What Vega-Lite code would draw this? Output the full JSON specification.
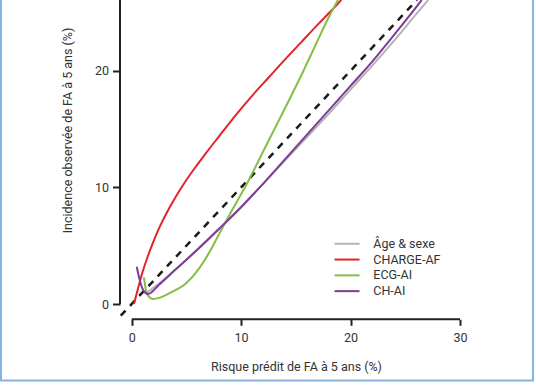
{
  "$schema": "https://vega.github.io/schema/vega-lite/v6.json",
  "autosize": {"type": "none"},
  "width": 532,
  "height": 385.5,
  "padding": {"left": 1, "top": -5, "right": 3, "bottom": 5.5},
  "background": "white",
  "config": {
    "view": {"stroke": "#86b4e0", "strokeWidth": 2},
    "font": "Roboto",
    "axis": {"grid": false, "domain": false, "tickColor": "#222", "tickWidth": 2, "labelColor": "#333", "labelFontSize": 12.5, "titleColor": "#333", "titleFontSize": 12.5, "titleFontWeight": "normal", "labelFont": "Roboto", "titleFont": "Roboto"},
    "legend": {"labelFont": "Roboto", "labelFontSize": 12.5, "labelColor": "#333"}
  },
  "layer": [
    {
      "data": {"values": [{"a": 1}]},
      "mark": {"type": "rule", "color": "#222", "strokeWidth": 2},
      "encoding": {
        "x": {"datum": 0, "type": "quantitative", "scale": {"domain": [-11.944, 36.672], "nice": false, "zero": false}, "axis": {"values": [0, 10, 20, 30], "offset": -61.2, "tickSize": 6, "labelPadding": 6, "title": "Risque prédit de FA à 5 ans (%)", "titleX": 295, "titleY": 47, "titleBaseline": "middle"}},
        "x2": {"datum": 30},
        "y": {"datum": -1.312, "type": "quantitative", "scale": {"domain": [-6.558, 26.49], "nice": false, "zero": false}, "axis": {"values": [0, 10, 20], "offset": -119, "tickSize": 7.5, "labelPadding": 4, "title": "Incidence observée de FA à 5 ans (%)", "titleX": -53, "titleY": 135, "titleAngle": -90, "titleAlign": "center", "titleBaseline": "middle"}}
      }
    },
    {
      "data": {"values": [{"a": 1}]},
      "mark": {"type": "rule", "color": "#222", "strokeWidth": 2},
      "encoding": {
        "x": {"datum": -1.069, "type": "quantitative"},
        "y": {"datum": 0, "type": "quantitative"},
        "y2": {"datum": 26.49}
      }
    },
    {
      "data": {"values": [{"x": -1, "y": -1}, {"x": 26.06, "y": 26.06}]},
      "mark": {"type": "line", "color": "#1a1a1a", "strokeWidth": 2.5, "strokeDash": [7, 6.5]},
      "encoding": {
        "x": {"field": "x", "type": "quantitative"},
        "y": {"field": "y", "type": "quantitative"}
      }
    },
    {
      "data": {"values": [
        {"serie": "Âge & sexe", "x": 1.3, "y": 0.9},
        {"serie": "Âge & sexe", "x": 2.5, "y": 1.75},
        {"serie": "Âge & sexe", "x": 4, "y": 2.95},
        {"serie": "Âge & sexe", "x": 6, "y": 4.7},
        {"serie": "Âge & sexe", "x": 8, "y": 6.5},
        {"serie": "Âge & sexe", "x": 10, "y": 8.35},
        {"serie": "Âge & sexe", "x": 12, "y": 10.3},
        {"serie": "Âge & sexe", "x": 14, "y": 12.3},
        {"serie": "Âge & sexe", "x": 16, "y": 14.3},
        {"serie": "Âge & sexe", "x": 18, "y": 16.3},
        {"serie": "Âge & sexe", "x": 20, "y": 18.4},
        {"serie": "Âge & sexe", "x": 22, "y": 20.45},
        {"serie": "Âge & sexe", "x": 24, "y": 22.6},
        {"serie": "Âge & sexe", "x": 26, "y": 24.85},
        {"serie": "Âge & sexe", "x": 27.1, "y": 26.06},
        {"serie": "CHARGE-AF", "x": 0.2, "y": 0},
        {"serie": "CHARGE-AF", "x": 0.5, "y": 1.05},
        {"serie": "CHARGE-AF", "x": 0.9, "y": 2.45},
        {"serie": "CHARGE-AF", "x": 1.4, "y": 3.9},
        {"serie": "CHARGE-AF", "x": 2.0, "y": 5.4},
        {"serie": "CHARGE-AF", "x": 2.6, "y": 6.7},
        {"serie": "CHARGE-AF", "x": 3.3, "y": 8.0},
        {"serie": "CHARGE-AF", "x": 4.0, "y": 9.15},
        {"serie": "CHARGE-AF", "x": 4.8, "y": 10.35},
        {"serie": "CHARGE-AF", "x": 5.8, "y": 11.7},
        {"serie": "CHARGE-AF", "x": 6.8, "y": 12.95},
        {"serie": "CHARGE-AF", "x": 8.0, "y": 14.4},
        {"serie": "CHARGE-AF", "x": 9.0, "y": 15.6},
        {"serie": "CHARGE-AF", "x": 10.0, "y": 16.75},
        {"serie": "CHARGE-AF", "x": 11.0, "y": 17.85},
        {"serie": "CHARGE-AF", "x": 12.5, "y": 19.4},
        {"serie": "CHARGE-AF", "x": 14.0, "y": 20.95},
        {"serie": "CHARGE-AF", "x": 15.5, "y": 22.45},
        {"serie": "CHARGE-AF", "x": 17.0, "y": 23.95},
        {"serie": "CHARGE-AF", "x": 18.3, "y": 25.2},
        {"serie": "CHARGE-AF", "x": 19.15, "y": 26.06},
        {"serie": "ECG-AI", "x": 1.12, "y": 2.29},
        {"serie": "ECG-AI", "x": 1.3, "y": 1.2},
        {"serie": "ECG-AI", "x": 1.55, "y": 0.65},
        {"serie": "ECG-AI", "x": 1.9, "y": 0.43},
        {"serie": "ECG-AI", "x": 2.6, "y": 0.55},
        {"serie": "ECG-AI", "x": 3.5, "y": 0.95},
        {"serie": "ECG-AI", "x": 5.0, "y": 1.8},
        {"serie": "ECG-AI", "x": 6.2, "y": 3.1},
        {"serie": "ECG-AI", "x": 7.2, "y": 4.6},
        {"serie": "ECG-AI", "x": 8.1, "y": 6.2},
        {"serie": "ECG-AI", "x": 9.0, "y": 7.75},
        {"serie": "ECG-AI", "x": 9.6, "y": 8.75},
        {"serie": "ECG-AI", "x": 10.8, "y": 10.8},
        {"serie": "ECG-AI", "x": 11.6, "y": 12.3},
        {"serie": "ECG-AI", "x": 12.4, "y": 13.8},
        {"serie": "ECG-AI", "x": 13.1, "y": 15.1},
        {"serie": "ECG-AI", "x": 14.5, "y": 17.7},
        {"serie": "ECG-AI", "x": 15.7, "y": 20.0},
        {"serie": "ECG-AI", "x": 17.0, "y": 22.6},
        {"serie": "ECG-AI", "x": 17.8, "y": 24.2},
        {"serie": "ECG-AI", "x": 18.85, "y": 26.06},
        {"serie": "CH-AI", "x": 0.46, "y": 3.2},
        {"serie": "CH-AI", "x": 0.75, "y": 2.0},
        {"serie": "CH-AI", "x": 1.05, "y": 1.2},
        {"serie": "CH-AI", "x": 1.5, "y": 0.85},
        {"serie": "CH-AI", "x": 2.5, "y": 1.65},
        {"serie": "CH-AI", "x": 4, "y": 2.95},
        {"serie": "CH-AI", "x": 6, "y": 4.65},
        {"serie": "CH-AI", "x": 8, "y": 6.45},
        {"serie": "CH-AI", "x": 10, "y": 8.3},
        {"serie": "CH-AI", "x": 12, "y": 10.3},
        {"serie": "CH-AI", "x": 14, "y": 12.4},
        {"serie": "CH-AI", "x": 16, "y": 14.5},
        {"serie": "CH-AI", "x": 18, "y": 16.6},
        {"serie": "CH-AI", "x": 20, "y": 18.7},
        {"serie": "CH-AI", "x": 22, "y": 20.8},
        {"serie": "CH-AI", "x": 24, "y": 23.1},
        {"serie": "CH-AI", "x": 26, "y": 25.45},
        {"serie": "CH-AI", "x": 26.5, "y": 26.06}
      ]},
      "mark": {"type": "line", "strokeWidth": 2, "interpolate": "monotone"},
      "encoding": {
        "x": {"field": "x", "type": "quantitative"},
        "y": {"field": "y", "type": "quantitative"},
        "color": {
          "field": "serie", "type": "nominal",
          "scale": {"domain": ["Âge & sexe", "CHARGE-AF", "ECG-AI", "CH-AI"], "range": ["#b3b3b3", "#e2232a", "#86bd45", "#7d3c98"]},
          "legend": {"title": null, "orient": "none", "legendX": 339.8, "legendY": 242.5, "symbolType": "M-2.5,0H2.5", "symbolSize": 100, "symbolStrokeWidth": 2, "labelOffset": 20, "rowPadding": 2.8, "padding": 0}
        }
      }
    }
  ]
}
